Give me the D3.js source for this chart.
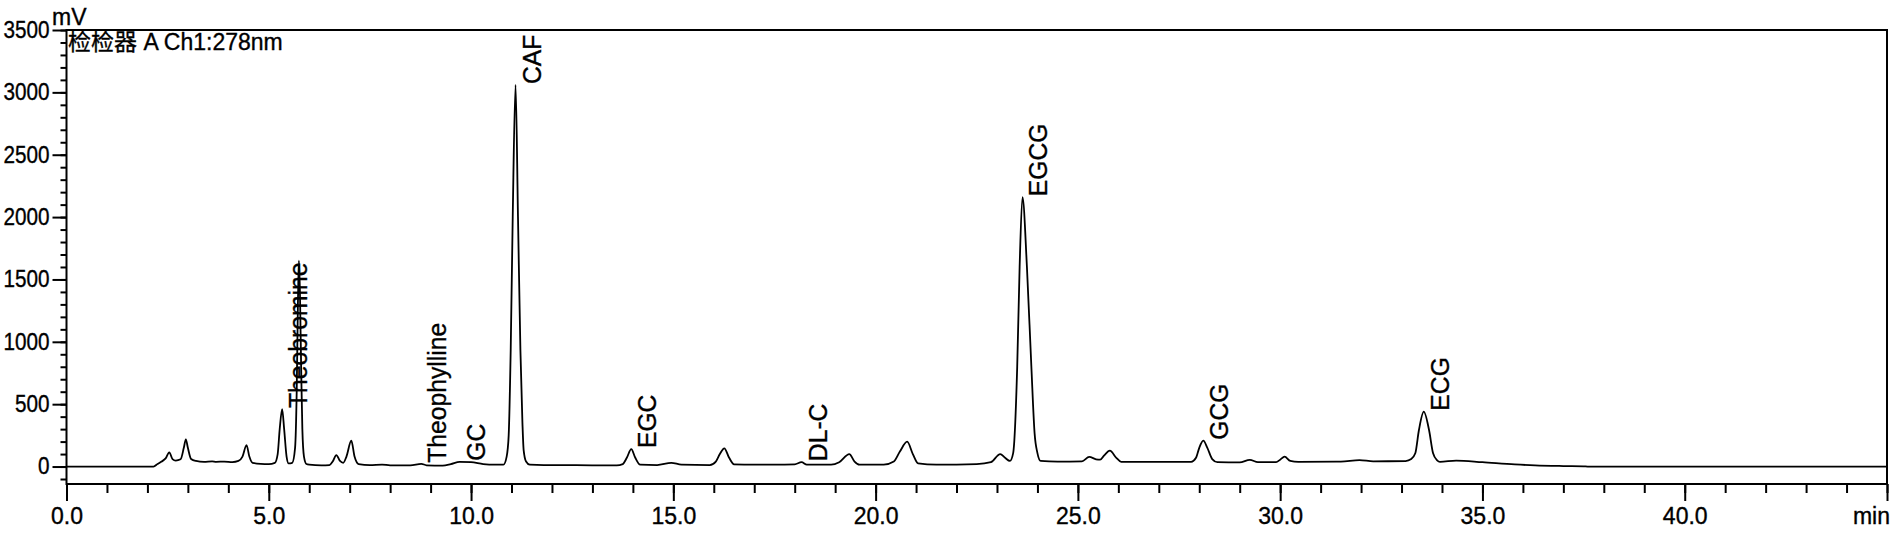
<!DOCTYPE html>
<html><head><meta charset="utf-8">
<script src="https://cdn.jsdelivr.net/npm/d3@7"></script>
<style>
body{margin:0;background:#fff}
text{font-family:"Liberation Sans",Arial,"Noto Sans CJK SC",sans-serif;fill:#000;stroke:#000;stroke-width:0.35px}
</style>
</head><body>
<svg id="c" width="1892" height="533"></svg>
<script>
// ---- data ----
const times = [0,2.15,2.25,2.35,2.45,2.54,2.62,2.70,2.82,2.90,2.95,3.00,3.08,3.2,3.4,3.6,3.7,3.9,4.1,4.25,4.35,4.45,4.52,4.60,4.8,5.0,
  5.15,5.22,5.27,5.33,5.38,5.44,5.49,5.58,5.65,5.69,5.72,5.745,5.77,5.80,5.83,5.87,5.93,6.0,6.3,6.5,6.58,6.67,6.76,6.84,6.92,7.04,7.12,7.22,
  7.5,7.8,8.0,8.5,8.77,8.9,9.3,9.5,9.72,10.0,10.3,10.6,10.8,10.88,10.93,10.98,11.03,11.10,11.16,11.22,11.27,11.30,11.36,11.45,11.8,12.2,13.0,
  13.6,13.75,13.85,13.96,14.06,14.18,14.6,14.95,15.2,15.9,16.05,16.15,16.26,16.38,16.5,17.0,17.5,18.0,18.17,18.3,18.9,19.1,19.35,19.48,19.6,
  20.2,20.45,20.6,20.78,20.92,21.05,21.5,22.5,22.85,23.08,23.2,23.32,23.40,23.50,23.56,23.63,23.74,23.85,23.93,24.0,24.08,24.5,25.1,25.28,
  25.45,25.55,25.65,25.79,25.95,26.07,27.0,27.8,27.92,28.0,28.1,28.2,28.32,28.45,29.0,29.25,29.45,29.9,30.0,30.11,30.25,30.45,31.5,31.96,
  32.3,33.1,33.24,33.34,33.43,33.55,33.68,33.78,33.88,33.95,34.35,35.0,35.8,36.3,37.0,37.5,37.6,45];
const signal = [0,0,20,40,65,114,60,48,58,150,218,150,60,45,38,42,38,40,36,45,80,172,80,30,22,20,
  30,100,300,461,300,80,25,30,150,600,1300,1650,1400,800,300,80,20,15,10,12,40,92,45,30,80,207,80,20,
  12,15,10,10,22,10,8,20,38,35,20,15,15,80,250,934,2003,3059,2003,934,350,132,40,15,12,12,10,
  10,20,70,140,70,15,12,30,15,12,40,100,146,70,18,15,15,18,35,15,15,35,100,40,15,
  15,40,120,199,100,25,15,20,35,100,70,45,108,800,1602,2159,1602,800,266,108,45,40,42,77,
  58,55,90,127,70,38,38,38,70,150,207,150,60,35,33,54,35,35,55,79,45,38,40,52,
  42,44,60,106,293,440,293,106,50,38,48,35,17,9,4,2,0,0];
const peakNames = ["Theobromine","Theophylline","GC","CAF","EGC","DL-C","EGCG","GCG","ECG"];
const peakTimes = [5.33,8.77,9.72,11.10,13.96,18.17,23.63,28.10,33.55];
const xTickValues = [0,5,10,15,20,25,30,35,40];
const yTickValues = [0,500,1000,1500,2000,2500,3000,3500];
const headerText = "检检器 A Ch1:278nm";
const yUnit = "mV", xUnit = "min";

// ---- drawing ----
const svg = d3.select("#c");
const x = d3.scaleLinear().domain([0,45]).range([66.5,1887]);
const y = d3.scaleLinear().domain([-140,3500]).range([484,30]);
const FS = 23;

function styleAxis(g){
  g.select(".domain").remove();
  g.selectAll(".tick line").attr("stroke","#000").attr("stroke-width",2);
  g.selectAll("text").attr("font-size",FS).attr("font-family",null).attr("fill","#000");
}
// y minor ticks
svg.append("g").attr("transform",`translate(${x(0)},0)`)
  .call(d3.axisLeft(y).tickValues(d3.range(-100,3501,100)).tickSize(6).tickFormat(""))
  .call(styleAxis);
// y major ticks
const SX = 0.9;
svg.append("g").attr("transform",`translate(${x(0)},0)`)
  .call(d3.axisLeft(y).tickValues(yTickValues).tickSize(14).tickPadding(3).tickFormat(d=>String(d)))
  .call(styleAxis)
  .call(g=>g.selectAll("text").attr("x",-17/SX).attr("transform",`scale(${SX},1)`));
// x minor ticks
svg.append("g").attr("transform",`translate(0,${y.range()[0]})`)
  .call(d3.axisBottom(x).tickValues(d3.range(0,46,1)).tickSize(9).tickFormat(""))
  .call(styleAxis);
// x major ticks
svg.append("g").attr("transform",`translate(0,${y.range()[0]})`)
  .call(d3.axisBottom(x).tickValues(xTickValues.concat([45])).tickSize(17).tickPadding(7)
     .tickFormat(d=> xTickValues.includes(d) ? d3.format(".1f")(d) : ""))
  .call(styleAxis);

// frame
svg.append("rect").attr("x",x(0)).attr("y",y(3500)).attr("width",x(45)-x(0)).attr("height",y(-140)-y(3500))
  .attr("fill","none").attr("stroke","#000").attr("stroke-width",2);

// trace
const pts = times.map((t,i)=>[t,signal[i]]);
svg.append("path").datum(pts)
  .attr("fill","none").attr("stroke","#000").attr("stroke-width",1.8).attr("stroke-linejoin","round")
  .attr("d", d3.line().x(d=>x(d[0])).y(d=>y(d[1])).curve(d3.curveMonotoneX));

// units and header
svg.append("text").attr("x",52).attr("y",25).attr("font-size",FS).text(yUnit);
svg.append("text").attr("x",1890).attr("y",524).attr("text-anchor","end").attr("font-size",FS).text(xUnit);
svg.append("text").attr("x",68).attr("y",50).attr("font-size",FS).text(headerText);

// peak labels
function valAt(t){ let best=0; times.forEach((tt,i)=>{ if(Math.abs(tt-t)<Math.abs(times[best]-t)) best=i; }); return signal[best]; }
svg.selectAll(".pl").data(peakNames).join("text").attr("class","pl")
  .attr("font-size",26)
  .attr("transform",(d,i)=>`translate(${x(peakTimes[i])+25},${y(valAt(peakTimes[i]))-1}) rotate(-90) scale(0.95,1)`)
  .text(d=>d);
</script>
</body></html>
